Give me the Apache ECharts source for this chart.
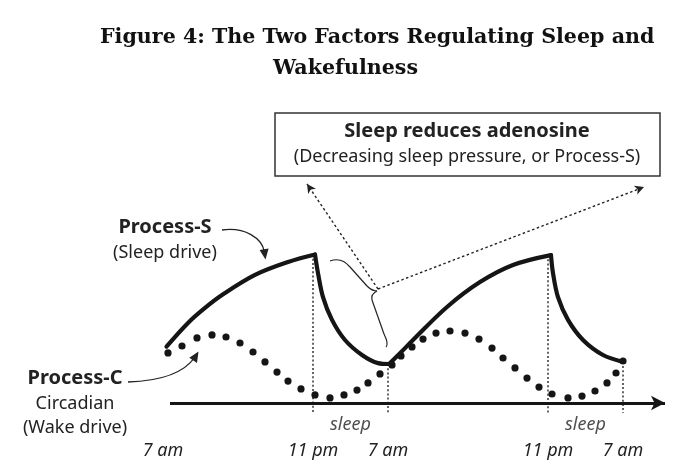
<!DOCTYPE html>
<html>
<head>
<meta charset="utf-8">
<script src="https://cdn.jsdelivr.net/npm/echarts@6/dist/echarts.min.js"></script>
<style>html,body{margin:0;padding:0;background:#fff;}#c{width:688px;height:476px;}</style>
</head>
<body>
<div id="c"></div>
<script>
// Schematic timeline units (figure is not to scale)
const xTickPos = [0.6, 30.6, 45.6, 77.6, 92.6];
const xTickLabels = ['7 am', '11 pm', '7 am', '11 pm', '7 am'];
const sleepStart = [30.6, 77.6];
const sleepEnd = [45.6, 92.6];
const sleepText = 'sleep';

// Process-S (sleep drive), split into wake and sleep phases
const processS_wake1 = [[1.3,18.8],[5.6,26.7],[9.0,31.7],[12.4,36.0],[19.0,42.7],[25.6,47.0],[31.0,49.5]];
const processS_sleep1 = [[31.0,49.5],[31.6,43.3],[32.6,35.3],[34.4,27.7],[37.0,21.0],[40.4,16.0],[43.6,13.3],[45.8,13.0]];
const processS_wake2 = [[45.8,13.0],[48.0,16.6],[50.6,21.0],[57.4,32.0],[64.0,40.3],[70.6,46.0],[78.2,49.3]];
const processS_sleep2 = [[78.2,49.3],[78.6,43.3],[79.6,35.3],[81.6,27.7],[84.6,21.0],[88.6,16.0],[92.6,13.7]];

// Process-C (circadian wake drive), dotted
const processC = [[1.6,16.7],[4.4,19.0],[7.4,21.7],[10.4,22.7],[13.2,22.0],[16.0,20.0],[18.6,17.0],[21.0,13.7],
  [23.4,10.3],[25.6,7.3],[28.2,4.7],[31.0,2.7],[34.0,1.7],[36.8,2.7],[39.4,4.3],[41.6,6.7],[44.0,9.7],[46.4,12.7],
  [48.2,15.7],[50.4,18.7],[52.6,21.3],[55.2,23.3],[58.0,24.0],[61.0,23.3],[63.8,21.3],[66.4,18.3],[68.6,15.0],
  [71.0,11.7],[73.4,8.3],[75.8,5.3],[78.4,3.0],[81.6,1.7],[84.4,2.3],[87.0,4.0],[89.4,6.7],[91.2,10.0],[92.6,14.0]];

const INK = '#151515';
const SANS = '"Noto Sans", "Open Sans", sans-serif';
const SERIF = '"DejaVu Serif", "Liberation Serif", serif';
const GUIDE_BOTTOM = -3.3;

const chart = echarts.init(document.getElementById('c'), null, {renderer: 'canvas'});

const sSeries = [processS_wake1, processS_sleep1, processS_wake2, processS_sleep2].map(d => ({
  type: 'line', data: d, smooth: 0.35, showSymbol: false, clip: false, silent: true, z: 3,
  lineStyle: {color: INK, width: 4.2, cap: 'round', join: 'round'}
}));

// dotted guide lines at sleep onset / wake, from the Process-S curve down past the axis
const guideSeries = [];
[processS_wake1, processS_wake2].forEach((d, i) => {
  guideSeries.push([[sleepStart[i], d[d.length - 1][1]], [sleepStart[i], GUIDE_BOTTOM]]);
});
[processS_sleep1, processS_sleep2].forEach((d, i) => {
  guideSeries.push([[sleepEnd[i], d[d.length - 1][1]], [sleepEnd[i], GUIDE_BOTTOM]]);
});
const guideLineSeries = guideSeries.map(d => ({
  type: 'line', data: d, showSymbol: false, clip: false, silent: true, z: 1,
  lineStyle: {color: '#333', width: 1.5, type: [2, 2.2]}
}));

function txt(x, y, text, font) {
  return {type: 'text', silent: true, style: {x: x, y: y, text: text, fill: '#222', font: font,
    textAlign: 'center', textVerticalAlign: 'middle', align: 'center', verticalAlign: 'middle'}};
}
const thin = {stroke: '#222', lineWidth: 1.2, fill: 'none'};
const thinArrow = {stroke: '#222', lineWidth: 1.3, fill: 'none'};

const option = {
  animation: false,
  backgroundColor: '#fff',
  title: [
    {text: 'Figure 4: The Two Factors Regulating Sleep and', left: 95, top: 22,
      textStyle: {fontFamily: SERIF, fontWeight: 'bold', fontSize: 20.6, color: '#111'}},
    {text: 'Wakefulness', left: 268, top: 53,
      textStyle: {fontFamily: SERIF, fontWeight: 'bold', fontSize: 20.6, color: '#111'}}
  ],
  grid: {left: 160, top: 103, width: 505, height: 300},
  xAxis: {
    type: 'value', min: 0, max: 101,
    axisLine: {show: false}, axisTick: {show: false}, splitLine: {show: false},
    axisLabel: {
      customValues: xTickPos,
      margin: 39,
      fontFamily: SANS, fontStyle: 'italic', fontSize: 18, color: '#222',
      formatter: function (v) {
        let best = 0;
        xTickPos.forEach((p, i) => { if (Math.abs(p - v) < Math.abs(xTickPos[best] - v)) best = i; });
        return xTickLabels[best];
      }
    }
  },
  yAxis: {type: 'value', min: 0, max: 100, show: false},
  series: sSeries.concat(guideLineSeries).concat([
    {
      type: 'scatter', data: processC, symbolSize: 7.2, clip: false, silent: true, z: 4,
      itemStyle: {color: INK, opacity: 1}
    },
    {
      type: 'scatter', silent: true, clip: false, symbolSize: 0,
      data: sleepStart.map((s, i) => ({value: [(s + sleepEnd[i]) / 2, -7.2], name: sleepText})),
      label: {show: true, position: 'inside', formatter: '{b}', fontFamily: SANS, fontStyle: 'italic', fontSize: 18, color: '#222'}
    },
    {
      type: 'line', data: [], silent: true,
      markLine: {
        silent: true, animation: false, label: {show: false},
        data: [
          [{coord: [2, 0], symbol: 'none', lineStyle: {color: INK, width: 3, type: 'solid'}},
           {coord: [101, 0], symbol: 'arrow', symbolSize: [11, 14]}],
          [{x: 378, y: 289, symbol: 'none', lineStyle: {color: '#222', width: 1.4, type: [2.5, 2.5]}},
           {x: 307, y: 184, symbol: 'arrow', symbolSize: [7, 9]}],
          [{x: 378, y: 289, symbol: 'none', lineStyle: {color: '#222', width: 1.4, type: [2.5, 2.5]}},
           {x: 644, y: 187, symbol: 'arrow', symbolSize: [7, 9]}]
        ]
      }
    }
  ]),
  graphic: [
    {type: 'rect', shape: {x: 275, y: 113, width: 385, height: 63},
      style: {fill: '#fff', stroke: '#333', lineWidth: 1.5}, silent: true},
    txt(467, 131, 'Sleep reduces adenosine', 'bold 20px "Noto Sans"'),
    txt(467, 157, '(Decreasing sleep pressure, or Process-S)', '18px "Noto Sans"'),
    txt(165, 227, 'Process-S', 'bold 20px "Noto Sans"'),
    txt(165, 253, '(Sleep drive)', '18px "Noto Sans"'),
    txt(75, 378, 'Process-C', 'bold 20px "Noto Sans"'),
    txt(75, 404, 'Circadian', '18px "Noto Sans"'),
    txt(75, 428, '(Wake drive)', '18px "Noto Sans"'),
    // curly brace
    {type: 'bezierCurve', silent: true, shape: {x1: 330, y1: 261, cpx1: 338, cpy1: 258, cpx2: 345, cpy2: 261, x2: 350, y2: 267}, style: thin},
    {type: 'line', silent: true, shape: {x1: 350, y1: 267, x2: 367, y2: 286}, style: thin},
    {type: 'bezierCurve', silent: true, shape: {x1: 367, y1: 286, cpx1: 370, cpy1: 289, cpx2: 373, cpy2: 291, x2: 377, y2: 291}, style: thin},
    {type: 'bezierCurve', silent: true, shape: {x1: 377, y1: 291, cpx1: 373, cpy1: 293, cpx2: 371, cpy2: 296, x2: 372, y2: 300}, style: thin},
    {type: 'line', silent: true, shape: {x1: 372, y1: 300, x2: 384, y2: 334}, style: thin},
    {type: 'bezierCurve', silent: true, shape: {x1: 384, y1: 334, cpx1: 387, cpy1: 340, cpx2: 388, cpy2: 345, x2: 386, y2: 347}, style: thin},
    // curved label arrows
    {type: 'bezierCurve', silent: true, shape: {x1: 222, y1: 230, cpx1: 245, cpy1: 227, cpx2: 262, cpy2: 238, x2: 264.5, y2: 252}, style: thinArrow},
    {type: 'polygon', silent: true, shape: {points: [[265.5, 259.5], [268.6, 248.4], [259.6, 250.0]]}, style: {fill: '#222'}},
    {type: 'bezierCurve', silent: true, shape: {x1: 128, y1: 382, cpx1: 160, cpy1: 381, cpx2: 184, cpy2: 373, x2: 195, y2: 357}, style: thinArrow},
    {type: 'polygon', silent: true, shape: {points: [[198.5, 351.5], [197.0, 363.0], [189.3, 357.8]]}, style: {fill: '#222'}}
  ]
};
chart.setOption(option);
</script>
</body>
</html>
